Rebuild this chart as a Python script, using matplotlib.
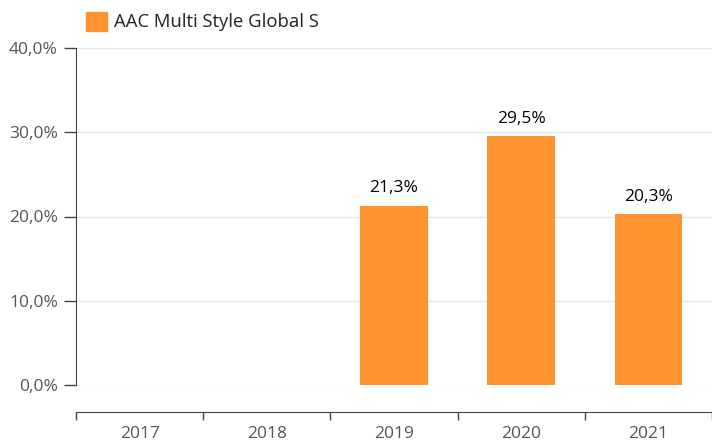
import numpy as np
import matplotlib.pyplot as plt
from matplotlib.patches import Rectangle

plt.rcParams['font.family'] = ['Open Sans', 'DejaVu Sans']

years = ['2017', '2018', '2019', '2020', '2021']
returns = [np.nan, np.nan, 21.3, 29.5, 20.3]
yticks = [0, 10, 20, 30, 40]
series_name = 'AAC Multi Style Global S'
bar_color = '#fe9330'

W, H = 712, 442
fig = plt.figure(figsize=(W / 100, H / 100), dpi=100)
ax = fig.add_axes([76 / W, 1 - 385 / H, (712 - 76) / W, (385 - 48) / H])

x = np.arange(len(years))
vals = np.array(returns, dtype=float)
ax.bar(x, np.nan_to_num(vals), width=0.53, color=bar_color, zorder=3)
for xi, v in zip(x, vals):
    if not np.isnan(v):
        ax.text(xi, v + 1.1, '{:.1f}%'.format(v).replace('.', ','),
                ha='center', va='bottom', fontsize=12.5, color='black')

ax.set_xlim(-0.5, len(years) - 0.5)
ax.set_ylim(0, 40)
ax.set_yticks(yticks)
ax.set_yticklabels(['{:.1f}%'.format(t).replace('.', ',') for t in yticks])
ax.yaxis.grid(True, color='#e6e6e6', linewidth=1, zorder=0)
ax.tick_params(axis='y', length=9, width=1, color='#444444', labelcolor='#555555',
               labelsize=12.5, pad=4)

# category boundaries on a detached x axis
ax.set_xticks(np.arange(len(years) + 1) - 0.5, minor=False)
ax.set_xticklabels([])
ax.set_xticks(x, minor=True)
ax.set_xticklabels(years, minor=True)
ax.tick_params(axis='x', which='major', length=6, width=1, color='#444444', direction='out')
ax.tick_params(axis='x', which='minor', length=0, labelcolor='#555555', labelsize=12.5, pad=10)

ax.spines['top'].set_visible(False)
ax.spines['right'].set_visible(False)
ax.spines['left'].set_color('#444444')
ax.spines['bottom'].set_color('#444444')
ax.spines['bottom'].set_position(('outward', 19.5))

# legend
fig.patches.append(Rectangle((86 / W, 1 - 31 / H), 21 / W, 19 / H,
                             transform=fig.transFigure, color=bar_color))
fig.text(114 / W, 1 - 22 / H, series_name, ha='left', va='center',
         fontsize=13.3, color='#222222')

fig.savefig('out.png', dpi=100)
